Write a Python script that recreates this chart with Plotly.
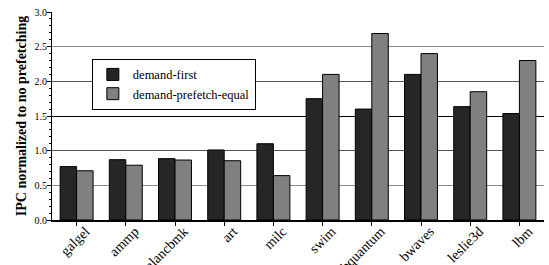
import plotly.graph_objects as go

categories = ["galgel", "ammp", "xalancbmk", "art", "milc", "swim",
              "libquantum", "bwaves", "leslie3d", "lbm"]
demand_first = [0.77, 0.87, 0.885, 1.01, 1.10, 1.75, 1.60, 2.10, 1.635, 1.535]
demand_prefetch_equal = [0.71, 0.79, 0.865, 0.855, 0.64, 2.10, 2.69, 2.40, 1.85, 2.30]
y_ticks = [0.0, 0.5, 1.0, 1.5, 2.0, 2.5, 3.0]
dark_grid = [1.0, 2.0]
black_grid = [1.5]

FONT = "'Liberation Serif', 'Times New Roman', Times, serif"

fig = go.Figure()
fig.add_trace(go.Bar(x=categories, y=demand_first, name="demand-first",
                     marker=dict(color="#262626", line=dict(color="black", width=1))))
fig.add_trace(go.Bar(x=categories, y=demand_prefetch_equal, name="demand-prefetch-equal",
                     marker=dict(color="#808080", line=dict(color="black", width=1))))
# invisible helpers for extra grid axes
fig.add_trace(go.Scatter(x=[], y=[], yaxis="y2", showlegend=False, hoverinfo="skip"))
fig.add_trace(go.Scatter(x=[], y=[], yaxis="y3", showlegend=False, hoverinfo="skip"))

fig.update_layout(
    width=549, height=265,
    margin=dict(l=52, r=5, t=12, b=45),
    paper_bgcolor="white", plot_bgcolor="white",
    font=dict(family=FONT, color="black", size=12),
    barmode="group", bargap=0.33, bargroupgap=0,
    showlegend=True,
    legend=dict(x=0.081, y=0.775, xanchor="left", yanchor="top",
                bgcolor="white", bordercolor="black", borderwidth=1,
                font=dict(family=FONT, size=12.5), tracegroupgap=0,
                itemwidth=30),
    xaxis=dict(
        type="category", showline=True, linecolor="black", linewidth=1.5,
        ticks="outside", ticklen=4, tickcolor="black", tickangle=-45,
        tickfont=dict(family=FONT, size=14), automargin=False,
        ticklabelshift=9, ticklabelstandoff=-8,
        showgrid=False, range=[-0.5, 9.5],
    ),
    yaxis=dict(
        range=[0, 3], tickvals=y_ticks, tickformat=".1f",
        showline=True, linecolor="black", linewidth=1.2,
        ticks="outside", ticklen=4, tickcolor="black",
        ticklabelstandoff=-2,
        minor=dict(ticks="outside", dtick=0.1, ticklen=2, tickcolor="black", showgrid=False),
        tickfont=dict(family=FONT, size=10),
        showgrid=True, gridcolor="#8c8c8c", gridwidth=1.2,
        zeroline=False, automargin=False,
        title=dict(text="<b>IPC normalized to no prefetching</b>",
                   font=dict(family=FONT, size=14), standoff=4),
    ),
    yaxis2=dict(
        overlaying="y", range=[0, 3], tickvals=dark_grid, showticklabels=False,
        ticks="", showgrid=True, gridcolor="#555555", gridwidth=1.2,
        zeroline=False, showline=False,
    ),
    yaxis3=dict(
        overlaying="y", range=[0, 3], tickvals=black_grid, showticklabels=False,
        ticks="", showgrid=True, gridcolor="black", gridwidth=1.2,
        zeroline=False, showline=False,
    ),
)

fig.write_html("out.html", config={"displayModeBar": False},
               post_script="document.body.style.margin='0';document.body.style.overflow='hidden';")
